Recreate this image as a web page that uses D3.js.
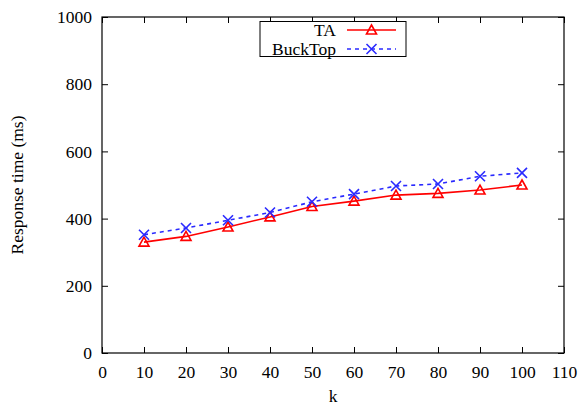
<!DOCTYPE html>
<html><head><meta charset="utf-8">
<script src="https://cdn.jsdelivr.net/npm/d3@7"></script>
<style>body{margin:0;background:#fff}svg{display:block}text{font-family:"Liberation Serif","Times New Roman",serif;fill:#000}</style>
</head><body>
<script>
const kValues = [10, 20, 30, 40, 50, 60, 70, 80, 90, 100];
const taValues = [330, 347, 375, 405, 436, 452, 470, 475, 485, 500];
const buckTopValues = [352, 372, 395, 418, 450, 473, 497, 503, 526, 536];
const xTicks = [0, 10, 20, 30, 40, 50, 60, 70, 80, 90, 100, 110];
const yTicks = [0, 200, 400, 600, 800, 1000];
const seriesNames = ["TA", "BuckTop"];

const W = 582, H = 407;
const L = 102, R = 564, T = 17, B = 353;
const FS = "17.5px";
const svg = d3.select("body").append("svg").attr("width", W).attr("height", H);
const x = d3.scaleLinear().domain([0, 110]).range([L, R]);
const y = d3.scaleLinear().domain([0, 1000]).range([B, T]);

const tl = 6;
const gx = svg.append("g").attr("transform", `translate(0,${B})`)
  .call(d3.axisBottom(x).tickValues(xTicks).tickSize(-tl).tickPadding(10).tickFormat(d3.format("d")));
const gx2 = svg.append("g").attr("transform", `translate(0,${T})`)
  .call(d3.axisTop(x).tickValues(xTicks).tickSize(-tl).tickFormat(""));
const gy = svg.append("g").attr("transform", `translate(${L},0)`)
  .call(d3.axisLeft(y).tickValues(yTicks).tickSize(-tl).tickPadding(10).tickFormat(d3.format("d")));
const gy2 = svg.append("g").attr("transform", `translate(${R},0)`)
  .call(d3.axisRight(y).tickValues(yTicks).tickSize(-tl).tickFormat(""));
[gx, gx2, gy, gy2].forEach(g => {
  g.select(".domain").remove();
  g.selectAll("line").attr("stroke", "#000").attr("stroke-width", 1);
  g.selectAll("text").style("font-size", FS).style("font-family", '"Liberation Serif",serif').attr("fill", "#000");
});
gx.selectAll("text").attr("dy", null).attr("y", 25);
svg.append("rect").attr("x", L).attr("y", T).attr("width", R - L).attr("height", B - T)
  .attr("fill", "none").attr("stroke", "#000").attr("stroke-width", 1.2);

svg.append("text").attr("x", (L + R) / 2).attr("y", 402).attr("text-anchor", "middle")
  .style("font-size", FS).text("k");
svg.append("text").attr("transform", `translate(23,${(T + B) / 2}) rotate(-90)`)
  .attr("text-anchor", "middle").style("font-size", FS).text("Response time (ms)");

const red = "#ff0000", blue = "#2a2aff";
const line = d3.line().x((d, i) => x(kValues[i])).y(d => y(d));

function drawTri(g, cx, cy) {
  g.append("path").attr("d", `M${cx},${cy - 5}L${cx + 5},${cy + 4}L${cx - 5},${cy + 4}Z`)
    .attr("fill", "none").attr("stroke", red).attr("stroke-width", 1.6);
}
function drawX(g, cx, cy) {
  g.append("path").attr("d", `M${cx - 5},${cy - 5}L${cx + 5},${cy + 5}M${cx - 5},${cy + 5}L${cx + 5},${cy - 5}`)
    .attr("fill", "none").attr("stroke", blue).attr("stroke-width", 1.6);
}

svg.append("path").datum(taValues).attr("d", line).attr("fill", "none").attr("stroke", red).attr("stroke-width", 1.6);
svg.append("path").datum(buckTopValues).attr("d", line).attr("fill", "none").attr("stroke", blue)
  .attr("stroke-width", 1.6).attr("stroke-dasharray", "4,4");
const gm = svg.append("g");
taValues.forEach((v, i) => drawTri(gm, x(kValues[i]), y(v)));
buckTopValues.forEach((v, i) => drawX(gm, x(kValues[i]), y(v)));

const lg = svg.append("g");
lg.append("rect").attr("x", 260).attr("y", 21.5).attr("width", 146).attr("height", 35)
  .attr("fill", "#fff").attr("stroke", "#000").attr("stroke-width", 1);
const rows = [30, 49];
seriesNames.forEach((n, i) => {
  lg.append("text").attr("x", 336).attr("y", rows[i] + 6.3).attr("text-anchor", "end")
    .style("font-size", FS).text(n);
  const ln = lg.append("line").attr("x1", 347).attr("x2", 396).attr("y1", rows[i]).attr("y2", rows[i])
    .attr("stroke", i === 0 ? red : blue).attr("stroke-width", 1.6);
  if (i === 1) ln.attr("stroke-dasharray", "4,4");
  if (i === 0) drawTri(lg, 371.5, rows[i]); else drawX(lg, 371.5, rows[i]);
});
</script>
</body></html>
